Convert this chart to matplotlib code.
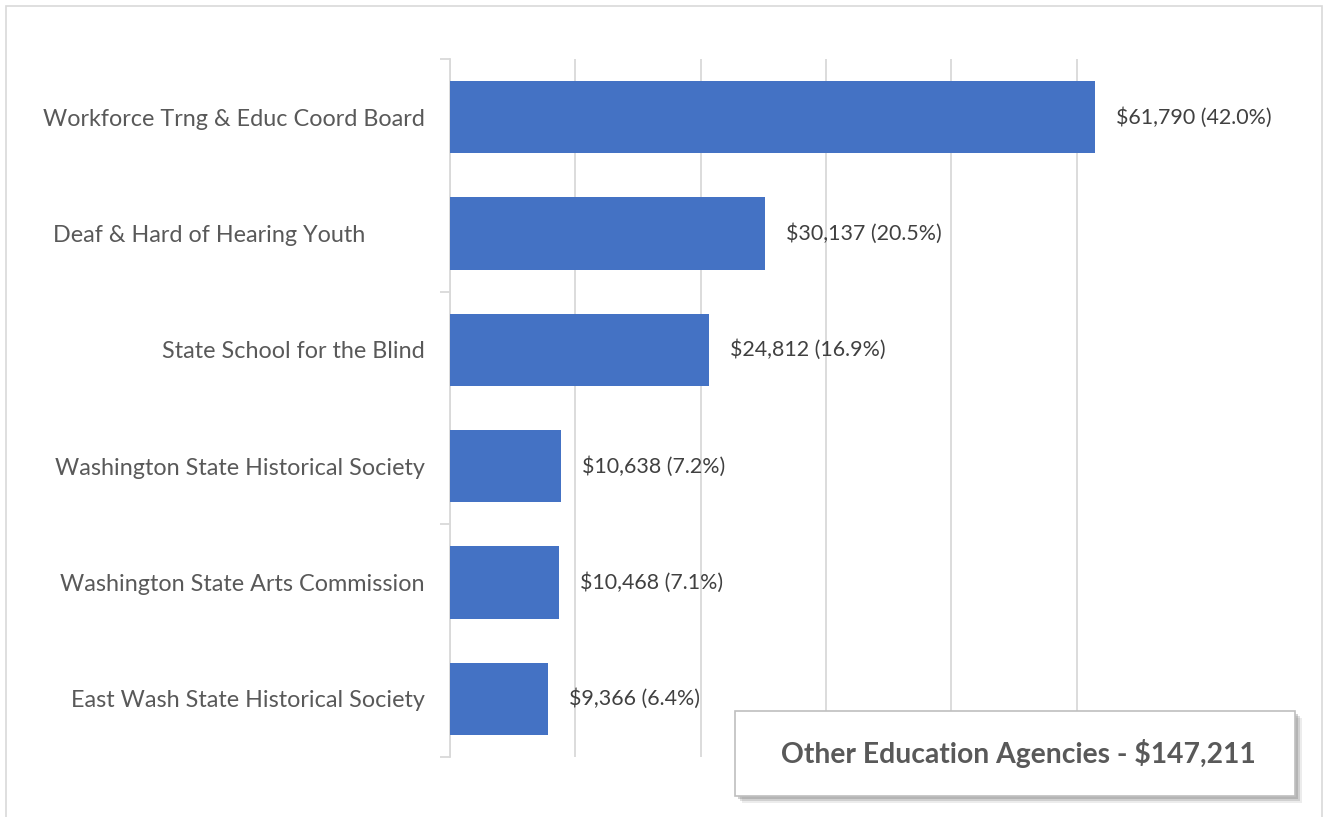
import matplotlib.pyplot as plt
from matplotlib.patches import Rectangle
import numpy as np

agencies = [
    "Workforce Trng & Educ Coord Board",
    "Deaf & Hard of Hearing Youth          ",
    "State School for the Blind",
    "Washington State Historical Society",
    "Washington State Arts Commission",
    "East Wash State Historical Society",
]
amounts = [61790, 30137, 24812, 10638, 10468, 9366]
shares = [42.0, 20.5, 16.9, 7.2, 7.1, 6.4]
total_label = "Other Education Agencies - $147,211"

plt.rcParams['font.family'] = ['Lato', 'DejaVu Sans']

fig = plt.figure(figsize=(13.28, 8.17), dpi=100)
ax = fig.add_axes([450/1328, 1-757/817, 752/1328, 698/817])

ypos = np.arange(len(agencies))
ax.barh(ypos, amounts, height=0.62, color='#4472C4', zorder=3)
for y, v, s in zip(ypos, amounts, shares):
    ax.annotate(f"${v:,} ({s:.1f}%)", (v, y), xytext=(21, 0), textcoords='offset pixels',
                va='center', ha='left', fontsize=15.4, color='#404040')

ax.set_xlim(0, 72000)
ax.set_ylim(len(agencies)-0.5, -0.5)
ax.set_xticks(np.arange(0, 60001, 12000))
ax.xaxis.grid(True, color='#d9d9d9', linewidth=1.3)
ax.tick_params(axis='x', length=0, labelbottom=False)

ax.set_yticks([-0.5, 1.5, 3.5, 5.5])
ax.set_yticklabels([])
ax.tick_params(axis='y', which='major', length=7, color='#d9d9d9', width=1.3)
ax.set_yticks(ypos, minor=True)
ax.set_yticklabels(agencies, minor=True, fontsize=16.8, color='#595959')
ax.tick_params(axis='y', which='minor', length=0, pad=18)

for side in ['top', 'right', 'bottom']:
    ax.spines[side].set_visible(False)
ax.spines['left'].set_color('#d9d9d9')
ax.spines['left'].set_linewidth(1.3)

# outer chart frame
fig.patches.append(Rectangle((6/1328, -0.01), 1316/1328, 1-6/817+0.01, transform=fig.transFigure,
                             fill=False, edgecolor='#d9d9d9', linewidth=1.2))

# total box with shadow
bx, by, bw, bh = 735/1328, 1-796/817, 560/1328, 85/817
for k, a in [(7, 0.15), (5, 0.25), (3, 0.35)]:
    fig.patches.append(Rectangle((bx+k/1328, by-k/817), bw, bh, transform=fig.transFigure,
                                 facecolor='#808080', edgecolor='none', alpha=a, zorder=5))
fig.patches.append(Rectangle((bx, by), bw, bh, transform=fig.transFigure,
                             facecolor='white', edgecolor='#bfbfbf', linewidth=1.2, zorder=6))
fig.text(bx+bw/2+3/1328, by+bh/2, total_label, ha='center', va='center', fontsize=20.3,
         fontweight='bold', color='#595959', zorder=7)

fig.savefig("out.png", dpi=100)
